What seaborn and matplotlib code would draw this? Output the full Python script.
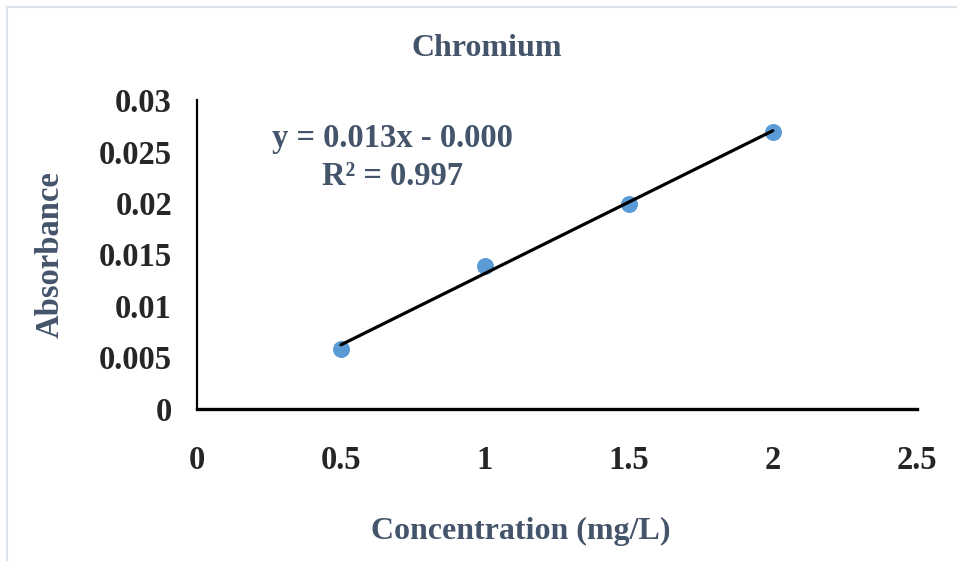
import matplotlib
matplotlib.use('Agg')
import matplotlib.pyplot as plt
import seaborn as sns
import pandas as pd
from matplotlib.lines import Line2D

# calibration data
concentration = [0.5, 1.0, 1.5, 2.0]
absorbance = [0.0058, 0.0139, 0.0199, 0.0269]
x_ticks = [0, 0.5, 1, 1.5, 2, 2.5]
x_labels = ["0", "0.5", "1", "1.5", "2", "2.5"]
y_ticks = [0, 0.005, 0.01, 0.015, 0.02, 0.025, 0.03]
y_labels = ["0", "0.005", "0.01", "0.015", "0.02", "0.025", "0.03"]
equation = "y = 0.013x - 0.000\nR\u00b2 = 0.997"

text_color = '#44546A'
point_color = '#5B9BD5'

sns.set_style('white')
plt.rcParams['font.family'] = ['Liberation Serif', 'DejaVu Serif']
plt.rcParams['font.weight'] = 'bold'

df = pd.DataFrame({'conc': concentration, 'abs': absorbance})

fig = plt.figure(figsize=(9.57, 5.61), dpi=100)
ax = fig.add_axes([0.2059, 0.271, 0.7521, 0.5507])

sns.regplot(x='conc', y='abs', data=df, ax=ax, ci=None, truncate=True,
            scatter_kws={'s': 150, 'color': point_color, 'alpha': 1, 'linewidths': 0, 'zorder': 3},
            line_kws={'color': 'black', 'lw': 2.3, 'zorder': 4})

ax.set_xlim(0, 2.5)
ax.set_ylim(0, 0.03)
ax.set_xticks(x_ticks)
ax.set_xticklabels(x_labels)
ax.set_yticks(y_ticks)
ax.set_yticklabels(y_labels)
ax.tick_params(axis='x', length=0, pad=26, labelsize=23.5)
ax.tick_params(axis='y', length=0, pad=18, labelsize=23.5)
for lab in ax.get_xticklabels() + ax.get_yticklabels():
    lab.set_fontweight('bold')

sns.despine(ax=ax)
ax.spines['left'].set_linewidth(1.6)
ax.spines['bottom'].set_linewidth(2.4)
ax.spines['left'].set_color('black')
ax.spines['bottom'].set_color('black')

ax.set_xlabel('Concentration (mg/L)', fontsize=23, fontweight='bold', color=text_color)
ax.xaxis.set_label_coords(0.45, -0.35)
ax.set_ylabel('Absorbance', fontsize=23.5, fontweight='bold', color=text_color, labelpad=24)
ax.set_title('Chromium', fontsize=23, fontweight='bold', color=text_color, pad=32)
ax.title.set_x(0.403)

ax.text(0.68, 0.0244, equation, ha='center', va='center', fontsize=23.5,
        fontweight='bold', color=text_color, linespacing=1.3)

# faint outer frame
fig.add_artist(Line2D([6.5 / 957, 6.5 / 957], [0, 1 - 6.5 / 561], color='#DCE2EA', lw=1.5))
fig.add_artist(Line2D([6.5 / 957, 1], [1 - 6.5 / 561, 1 - 6.5 / 561], color='#DCE2EA', lw=1.5))

fig.savefig('out.png', dpi=100)
